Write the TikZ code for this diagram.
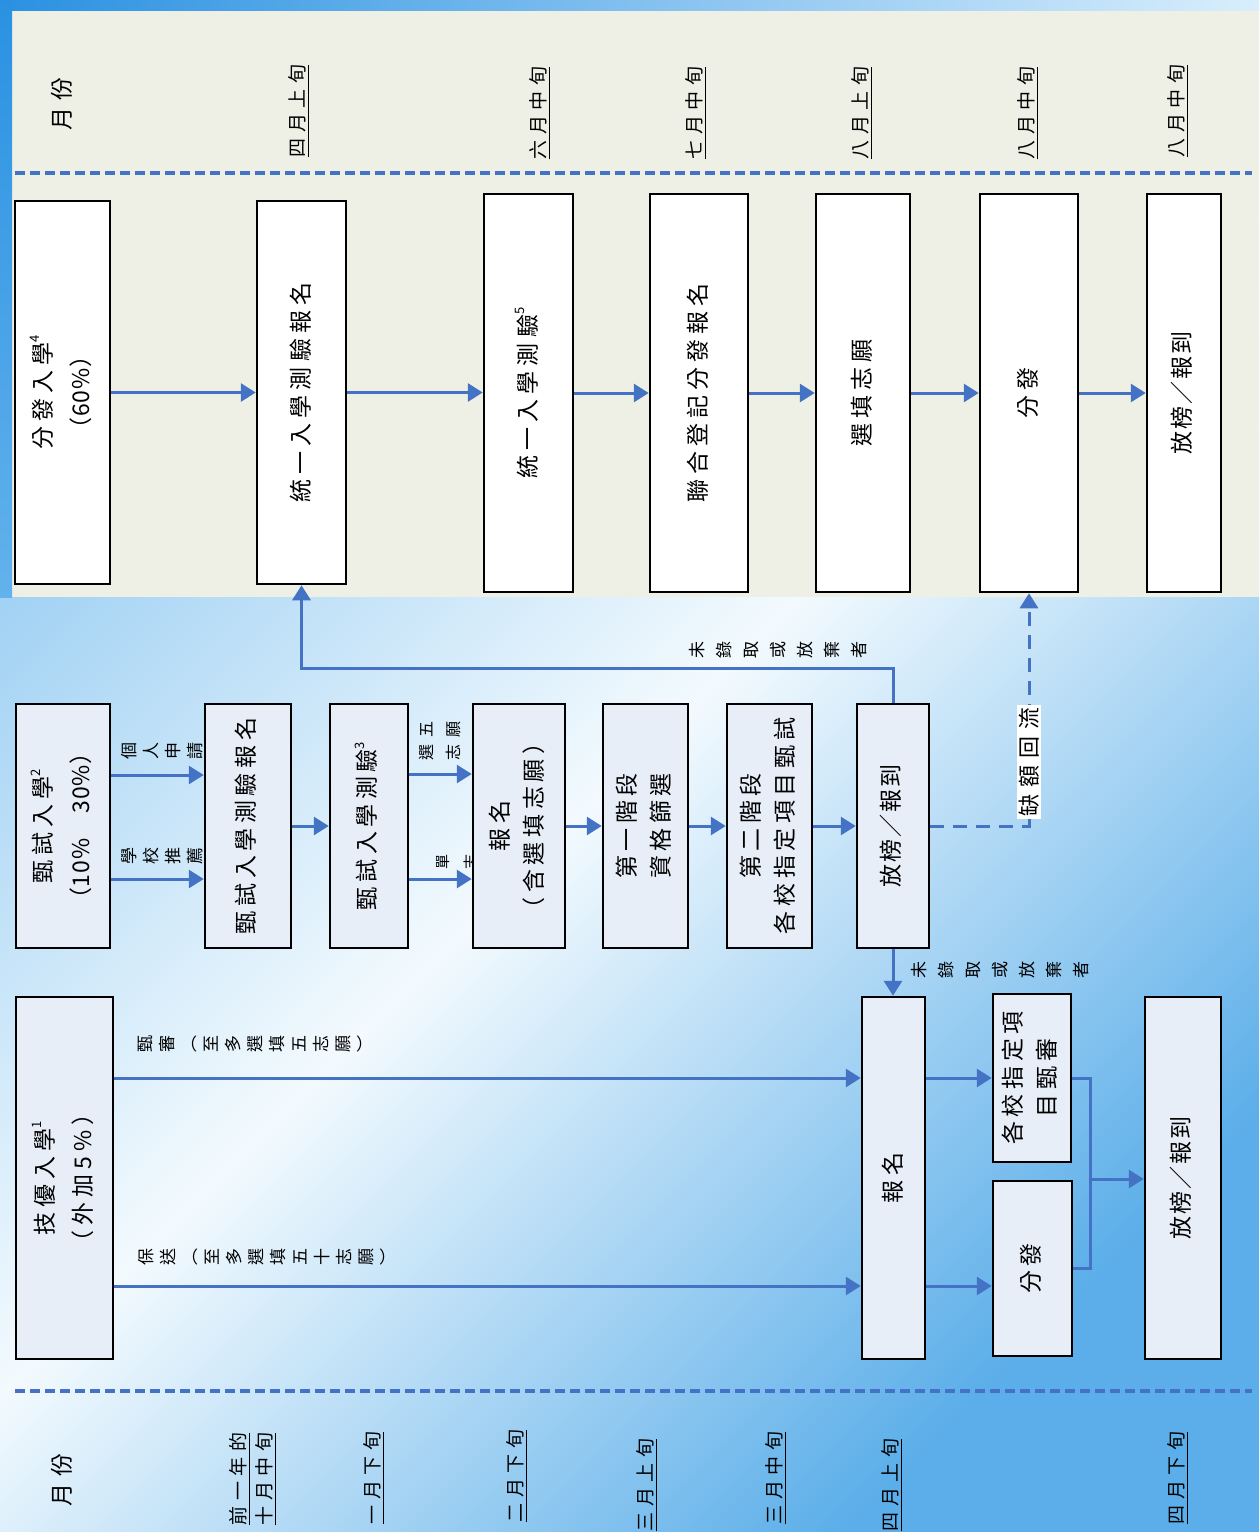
\documentclass[tikz,border=0pt]{standalone}
\usepackage{graphicx}
\usepackage{fontspec}
\setmainfont{Noto Sans CJK TC}
\usetikzlibrary{arrows.meta,calc}
\definecolor{arrblue}{HTML}{4472C4}
\definecolor{boxfill}{HTML}{E8EEF8}
\definecolor{beige}{HTML}{EEF0E5}
\definecolor{bgA}{HTML}{8EC8F1}
\definecolor{bgB}{HTML}{F3FAFE}
\definecolor{bgC}{HTML}{5BAEE9}
\definecolor{stripA}{HTML}{2A91E2}
\definecolor{stripB}{HTML}{D9EEFC}
\definecolor{stripC}{HTML}{62B2EC}
\newcommand{\vt}[1]{\rotatebox{90}{\begin{tabular}{@{}c@{}}#1\end{tabular}}}
\newcommand{\sps}[1]{\raisebox{0.5em}{\fontsize{13}{13}\selectfont #1}}
\newcommand{\ulx}[1]{\vtop{\hbox{#1}\kern1.5pt\hrule height 1.2pt}}
\newcommand{\nls}[1]{{\addfontfeatures{LetterSpace=4}#1}}
\tikzset{
  tbox/.style={draw=black, line width=2.5pt, fill=white, inner sep=0pt, rectangle},
  lbox/.style={tbox, fill=boxfill},
  flow/.style={draw=arrblue, line width=3pt, -{Triangle[length=15pt,width=18pt]}},
  link/.style={draw=arrblue, line width=3pt},
  sep/.style={draw=arrblue, line width=4pt, dash pattern=on 10pt off 5pt},
  mon/.style={rotate=90, inner sep=0pt, align=center, font=\fontsize{19}{26}\selectfont\addfontfeatures{LetterSpace=29}},
  mhead/.style={rotate=90, inner sep=0pt, font=\fontsize{23}{26}\selectfont\addfontfeatures{LetterSpace=32}},
  cl/.style={rotate=90, inner sep=0pt, align=center, font=\fontsize{17}{27}\selectfont},
  cls/.style={rotate=90, inner sep=0pt, align=center, font=\fontsize{17}{22}\selectfont},
  fbig/.style={font=\fontsize{23}{38}\selectfont\addfontfeatures{LetterSpace=22}},
  fmid/.style={font=\fontsize{23}{34}\selectfont\addfontfeatures{LetterSpace=20}},
  ftight/.style={font=\fontsize{23}{34}\selectfont\addfontfeatures{LetterSpace=8}},
}
\begin{document}
\begin{tikzpicture}[x=1pt,y=-1pt]
\useasboundingbox (0,0) rectangle (1259,1532);
% background
\shade[top color=bgA, bottom color=bgC, middle color=bgB, shading angle=45] (0,0) rectangle (1259,1532);
\fill[beige] (12,10) rectangle (1259,597);
\shade[left color=stripA, right color=stripB] (0,0) rectangle (1259,10);
\shade[top color=stripA, bottom color=stripC] (0,0) rectangle (12,597);
% separators
\draw[sep] (15,173) -- (1252,173);
\draw[sep] (15,1391) -- (1252,1391);
% month labels top
\node[mhead] (mt0) at (62,104) {月份};
\node[mon] (mt1) at (299,111) {\ulx{四月上旬}};
\node[mon] (mt2) at (540,113) {\ulx{六月中旬}};
\node[mon] (mt3) at (696,113) {\ulx{七月中旬}};
\node[mon] (mt4) at (862,113) {\ulx{八月上旬}};
\node[mon] (mt5) at (1028,113) {\ulx{八月中旬}};
\node[mon] (mt6) at (1178,111) {\ulx{八月中旬}};
% month labels bottom
\node[mhead] (mb0) at (62,1480) {月份};
\node[mon] (mb1) at (253,1479) {\ulx{前一年的}\\\ulx{十月中旬}};
\node[mon] (mb2) at (374,1478) {\ulx{一月下旬}};
\node[mon] (mb3) at (517,1476) {\ulx{二月下旬}};
\node[mon] (mb4) at (647,1485) {\ulx{三月上旬}};
\node[mon] (mb5) at (776,1478) {\ulx{三月中旬}};
\node[mon] (mb6) at (892,1485) {\ulx{四月上旬}};
\node[mon] (mb7) at (1178,1478) {\ulx{四月下旬}};
% label partly hidden by box K
\node[rotate=90, inner sep=0pt, align=center, font=\fontsize{15}{28}\selectfont] (ldan) at (457,862) {單\\志};
% top row boxes
\node[tbox, fbig, minimum width=95pt, minimum height=383pt] (A) at (62.5,392.5) {\vt{分發入學\sps{4}\\\nls{（60\%）}}};
\node[tbox, fbig, minimum width=89pt, minimum height=383pt] (B) at (301.5,392.5) {\vt{統一入學測驗報名}};
\node[tbox, fbig, minimum width=89pt, minimum height=398pt] (C) at (528.5,393) {\vt{統一入學測驗\sps{5}}};
\node[tbox, fbig, minimum width=98pt, minimum height=398pt] (D) at (699,393) {\vt{聯合登記分發報名}};
\node[tbox, fbig, minimum width=94pt, minimum height=398pt] (E) at (863,393) {\vt{選填志願}};
\node[tbox, fbig, minimum width=98pt, minimum height=398pt] (F) at (1029,393) {\vt{分發}};
\node[tbox, ftight, minimum width=74pt, minimum height=398pt] (G) at (1184,393) {\vt{放榜／報到}};
% middle row boxes
\node[lbox, fbig, minimum width=94pt, minimum height=244pt] (H) at (63,826) {\vt{甄試入學\sps{2}\\\nls{（10\%　30\%）}}};
\node[lbox, fmid, minimum width=86pt, minimum height=244pt] (I) at (248,826) {\vt{甄試入學測驗報名}};
\node[lbox, fmid, minimum width=78pt, minimum height=244pt] (J) at (369,826) {\vt{甄試入學測驗\sps{3}}};
\node[lbox, fmid, minimum width=92pt, minimum height=244pt] (K) at (519,826) {\vt{報名\\（含選填志願）}};
\node[lbox, fmid, minimum width=85pt, minimum height=244pt] (L) at (645.5,826) {\vt{第一階段\\資格篩選}};
\node[lbox, fmid, minimum width=85pt, minimum height=244pt] (M) at (769.5,826) {\vt{第二階段\\各校指定項目甄試}};
\node[lbox, ftight, minimum width=72pt, minimum height=244pt] (N) at (893,826) {\vt{放榜／報到}};
% lower boxes
\node[lbox, fbig, minimum width=97pt, minimum height=362pt] (O) at (64.5,1178) {\vt{技優入學\sps{1}\\（外加5\%）}};
\node[lbox, fbig, minimum width=63pt, minimum height=362pt] (P) at (893.5,1178) {\vt{報名}};
\node[lbox, fmid, minimum width=78pt, minimum height=168pt] (Q) at (1032,1078) {\vt{各校指定項\\目甄審}};
\node[lbox, fmid, minimum width=79pt, minimum height=175pt] (R) at (1032.5,1268.5) {\vt{分發}};
\node[lbox, ftight, minimum width=76pt, minimum height=362pt] (S) at (1183,1178) {\vt{放榜／報到}};
% top row connectors
\draw[flow] (A.east) -- (A.east -| B.west);
\draw[flow] (B.east) -- (B.east -| C.west);
\draw[flow] (C.east) -- (C.east -| D.west);
\draw[flow] (D.east) -- (D.east -| E.west);
\draw[flow] (E.east) -- (E.east -| F.west);
\draw[flow] (F.east) -- (F.east -| G.west);
% middle row connectors
\draw[flow] ([yshift=51pt]H.east) -- ([yshift=51pt]H.east -| I.west);
\draw[flow] ([yshift=-53pt]H.east) -- ([yshift=-53pt]H.east -| I.west);
\draw[flow] (I.east) -- (I.east -| J.west);
\draw[flow] ([yshift=52pt]J.east) -- ([yshift=52pt]J.east -| K.west);
\draw[flow] ([yshift=-53pt]J.east) -- ([yshift=-53pt]J.east -| K.west);
\draw[flow] (K.east) -- (K.east -| L.west);
\draw[flow] (L.east) -- (L.east -| M.west);
\draw[flow] (M.east) -- (M.east -| N.west);
\coordinate (t1) at (0,668);
\draw[flow] (N.north) |- (B.south |- t1) -- (B.south);
\draw[flow, dash pattern=on 14pt off 9pt] (N.east) -| (F.south);
\draw[flow] (N.south) -- (N.south |- P.north);
% lower connectors
\draw[flow] ([yshift=100pt]O.east) -- ([yshift=100pt]O.east -| P.west);
\draw[flow] ([yshift=-108pt]O.east) -- ([yshift=-108pt]O.east -| P.west);
\draw[flow] (P.east |- Q.west) -- (Q.west);
\draw[flow] ([yshift=-108pt]P.east) -- ([yshift=-108pt]P.east -| R.west);
\coordinate (jn) at (1090,1179);
\draw[link] (Q.east) -| (jn);
\draw[link] (R.east) -| (jn);
\draw[flow] (jn) -- (jn -| S.west);
% connector labels
\node[cls] (l1) at (162,751) {個\\人\\申\\請};
\node[cls] (l2) at (162,856) {學\\校\\推\\薦};
\node[rotate=90, inner sep=0pt, align=center, font=\fontsize{16}{27}\selectfont\addfontfeatures{LetterSpace=40}] (l3) at (440,741) {選五\\志願};
\node[cl] (l4) at (778,650) {未\\錄\\取\\或\\放\\棄\\者};
\node[cl] (l5) at (1000,970) {未\\錄\\取\\或\\放\\棄\\者};
\node[cls] (l6) at (255,1044) {甄\\審\\︵\\至\\多\\選\\填\\五\\志\\願\\︶};
\node[cls] (l7) at (266,1257) {保\\送\\︵\\至\\多\\選\\填\\五\\十\\志\\願\\︶};
\node[rotate=90, fill=white, inner sep=2pt, font=\fontsize{22}{24}\selectfont\addfontfeatures{LetterSpace=32}] (l8) at (1029,762) {缺額回流};
\end{tikzpicture}
\end{document}
